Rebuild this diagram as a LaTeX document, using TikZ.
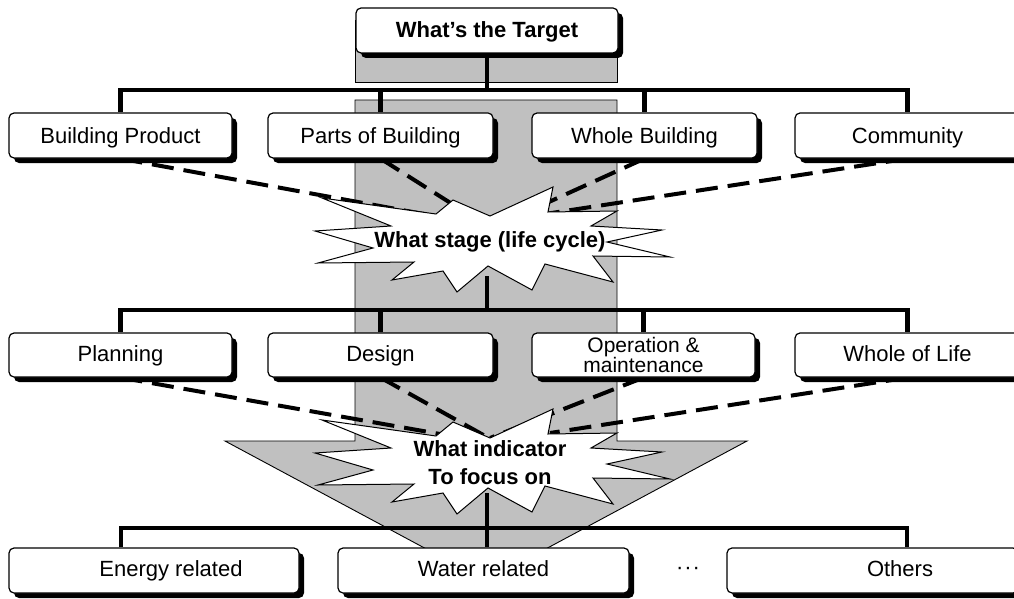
\documentclass[tikz,border=0pt]{standalone}
\usepackage{fontspec}
\setmainfont{Liberation Sans}
\usetikzlibrary{shadows}
\pgfdeclarelayer{back}
\pgfdeclarelayer{links}
\pgfsetlayers{back,links,main}
\definecolor{flowgray}{RGB}{192,192,192}
\tikzset{
  box/.style={draw=black, line width=1.2pt, fill=white, rounded corners=5pt,
    inner sep=0pt, text height=16pt, text depth=4pt, font=\fontsize{22}{22}\selectfont,
    drop shadow={shadow xshift=5pt, shadow yshift=-5pt, fill=black, opacity=1}},
  row1/.style={box, minimum height=45pt, text height=17pt, text depth=2pt},
  row2/.style={box, minimum height=44pt},
  row3/.style={box, minimum height=45pt},
  bus/.style={line width=4.5pt, line cap=butt},
  dashlink/.style={line width=4pt, dash pattern=on 22pt off 10pt},
  flow/.style={fill=flowgray, draw=black, line width=0.9pt},
  burstline/.style={fill=white, draw=black, line width=1pt, line join=miter},
  bursttext/.style={font=\bfseries\fontsize{22}{28}\selectfont, align=center, inner sep=0pt},
  pics/starblob/.style={code={
    \path[burstline] (322,198) -- (436,214) -- (453,200) -- (490,216) -- (553,187)
      -- (548,212) -- (617,211) -- (591,226) -- (662,230) -- (607,242) -- (670,257)
      -- (593,256) -- (613,282) -- (545,264) -- (532,290) -- (488,266) -- (457,292)
      -- (443,271) -- (392,280) -- (414,262) -- (318,263) -- (373,248) -- (315,231)
      -- (391,226) -- cycle;
  }}
}
\begin{document}
\begin{tikzpicture}[x=1pt,y=-1pt]
\useasboundingbox (0,0) rectangle (1014,599);

% boxes
\node[row1, minimum width=262pt, font=\bfseries\fontsize{22}{22}\selectfont] (tg) at (487,30.5) {What’s the Target};

\node[row1, minimum width=223pt] (bp) at (120.5,135.5) {Building Product};
\node[row1, minimum width=225pt] (pb) at (380.5,135.5) {Parts of Building};
\node[row1, minimum width=225pt] (wb) at (644.5,135.5) {Whole Building};
\node[row1, minimum width=225pt] (cm) at (907.5,135.5) {Community};

\node[row2, minimum width=223pt] (pl) at (120.5,355) {Planning};
\node[row2, minimum width=225pt] (de) at (380.5,355) {Design};
\node[row2, minimum width=223pt, text height=, text depth=, align=center, font=\fontsize{21}{18}\selectfont] (op) at (643.5,355) {Operation \&\\maintenance};
\node[row2, minimum width=225pt] (wl) at (907.5,355) {Whole of Life};

\node[row3, minimum width=290pt] (er) at (154,570.5) {\hspace*{34pt}Energy related};
\node[row3, minimum width=291pt] (wr) at (483.5,570.5) {Water related};
\node[row3, minimum width=291pt] (ot) at (872.5,570.5) {\hspace*{55pt}Others};
\node[font=\fontsize{22}{22}\selectfont, inner sep=0pt] (dots) at (688,571) {·\kern1pt·\kern1pt·};

% joints of the connectors
\coordinate (bus1) at (487,90);
\coordinate (bus2) at (487,310);
\coordinate (bus3l) at (121,528);
\coordinate (bus3r) at (907,528);
\coordinate (s1b) at (487,276);
\coordinate (s2b) at (487,493);
\coordinate (a1l) at (440,217);
\coordinate (a1m) at (460,209);
\coordinate (a1n) at (540,206);
\coordinate (a1r) at (545,214);
\coordinate (a2l) at (440,434);
\coordinate (a2m) at (487,437);
\coordinate (a2n) at (490,438);
\coordinate (a2r) at (550,433);

% grey flow arrow behind everything
\begin{pgfonlayer}{back}
  \path[flow] (355,20) rectangle (617,82);
  \path[flow] (355,100) -- (617,100) -- (617,441) -- (747,441) -- (486,581)
    -- (225,441) -- (355,441) -- cycle;
\end{pgfonlayer}

\begin{pgfonlayer}{links}
  % solid tree connectors
  \draw[bus] (tg.south) -- (bus1);
  \draw[bus] (bp.north) |- (bus1) -| (cm.north);
  \draw[bus] (pb.north) -- (pb.north |- bus1);
  \draw[bus] (wb.north) -- (wb.north |- bus1);

  \draw[bus] (pl.north) |- (bus2) -| (wl.north);
  \draw[bus] (de.north) -- (de.north |- bus2);
  \draw[bus] (op.north) -- (op.north |- bus2);

  \draw[bus] (bus3l |- er.north) |- (bus3r) -- (bus3r |- ot.north);

  % dashed links into the stages
  \draw[dashlink] (bp.south) -- (a1l);
  \draw[dashlink] (pb.south) -- (a1m);
  \draw[dashlink] (wb.south) -- (a1n);
  \draw[dashlink] (cm.south) -- (a1r);

  \draw[dashlink] (pl.south) -- (a2l);
  \draw[dashlink] (de.south) -- (a2m);
  \draw[dashlink] (op.south) -- (a2n);
  \draw[dashlink] (wl.south) -- (a2r);

  % explosion shapes with questions
  \pic at (0,0) {starblob};
  \pic at (0,222) {starblob};
  \node[bursttext] (st1) at (490,242) {What stage (life cycle)};
  \node[bursttext] (st2) at (490,463) {What indicator\\To focus on};

  \draw[bus] (s1b) -- (bus2);
  \draw[bus] (s2b) -- (s2b |- wr.north);
\end{pgfonlayer}
\end{tikzpicture}
\end{document}
